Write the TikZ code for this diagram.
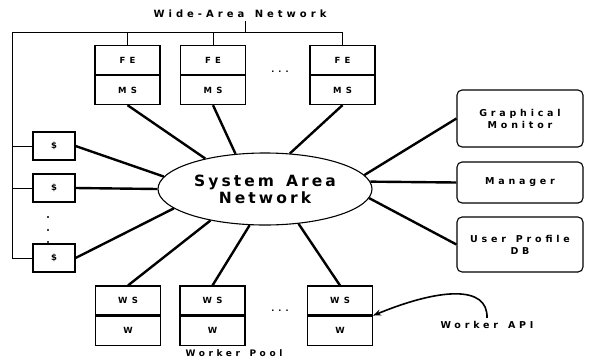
\documentclass[tikz,border=0pt]{standalone}
\usepackage{fontspec}
\newfontfamily\labelfont{DejaVu Sans}[LetterSpace=40, WordSpace=1.4]
\newfontfamily\boxfont{DejaVu Sans}[LetterSpace=50]
\newfontfamily\sanfont{DejaVu Sans}[LetterSpace=20, WordSpace=1.4]
\usetikzlibrary{shapes.geometric, arrows.meta, positioning}

\begin{document}
\begin{tikzpicture}[x=1pt, y=-1pt,
    unitbox/.style={draw, line width=1.1pt, minimum width=65pt, minimum height=29pt, inner sep=0pt,
        font={\fontsize{8.5}{9}\boxfont\bfseries}},
    cachebox/.style={unitbox, minimum width=42pt, minimum height=28pt},
    svcbox/.style={draw, line width=1.1pt, rounded corners=5pt, minimum width=126pt, align=center,
        font={\fontsize{9.5}{12}\labelfont\bfseries}},
    tag/.style={font={\fontsize{9.5}{12}\labelfont\bfseries}},
    bus/.style={line width=1pt},
    link/.style={line width=2.4pt}]
    \useasboundingbox (0,0) rectangle (595,360);

    % Wide-area network label and bus
    \node[tag, font={\fontsize{10}{12}\labelfont\bfseries}] (wan) at (240,14) {Wide-Area Network};
    \coordinate (wanbus) at (245,32);
    \coordinate (busL) at (12,32);

    % Front ends with their manager stubs
    \node[unitbox] (fe1) at (127.5,60) {FE};
    \node[unitbox, below=0pt of fe1] (ms1) {MS};
    \node[unitbox] (fe2) at (213,60) {FE};
    \node[unitbox, below=0pt of fe2] (ms2) {MS};
    \node[unitbox] (fe3) at (342.5,60) {FE};
    \node[unitbox, below=0pt of fe3] (ms3) {MS};
    \node[font={\fontsize{8}{9}\boxfont\bfseries}] (fedots) at (280,72) {...};

    % Caches on the left
    \node[cachebox] (ss1) at (54,146) {\$};
    \node[cachebox] (ss2) at (54,188) {\$};
    \node[cachebox] (ss3) at (54,258) {\$};
    \foreach \y in {217,230,242}
        \fill (48,\y) circle (1.2pt);

    % The system area network
    \node[ellipse, draw, line width=1.1pt, minimum width=214pt, minimum height=72pt, inner sep=0pt,
        align=center, font={\fontsize{15.5}{17}\sanfont\bfseries}] (san) at (265,189) {System Area\\Network};

    % Services on the right
    \node[svcbox, minimum height=57pt] (gm) at (520,118.5) {Graphical\\Monitor};
    \node[svcbox, minimum height=41pt] (mgr) at (520,182.5) {Manager};
    \node[svcbox, minimum height=55pt] (updb) at (520,244.5) {User Profile\\DB};

    % Worker pool
    \node[unitbox] (ws1) at (128,300.5) {WS};
    \node[unitbox, below=0pt of ws1] (w1) {W};
    \node[unitbox] (ws2) at (212.5,300.5) {WS};
    \node[unitbox, below=0pt of ws2] (w2) {W};
    \node[unitbox] (ws3) at (340,300.5) {WS};
    \node[unitbox, below=0pt of ws3] (w3) {W};
    \node[font={\fontsize{8}{9}\boxfont\bfseries}] (wsdots) at (280,311) {...};
    \node[tag, font={\fontsize{9}{11}\labelfont\bfseries}] (pool) at (234,353) {Worker Pool};
    \node[tag] (api) at (487,325) {Worker API};

    % WAN wiring
    \draw[bus] (wan.south -| wanbus) -- (wanbus);
    \draw[bus] (ss3.west) -| (busL) -| (fe3.north);
    \draw[bus] (fe1.north) -- (fe1.north |- busL);
    \draw[bus] (fe2.north) -- (fe2.north |- busL);
    \draw[bus] (ss1.west) -- (ss1.west -| busL);
    \draw[bus] (ss2.west) -- (ss2.west -| busL);

    % Links into the system area network
    \draw[link] (ms1.south) -- (san.153);
    \draw[link] (ms2.south) -- (san.130);
    \draw[link] (ms3.south) -- (san.55);
    \draw[link] (gm.west) -- (san.8);
    \draw[link] (mgr.west) -- (san.4);
    \draw[link] (updb.west) -- (san.-5);
    \draw[link] (ss1.east) -- (san.173);
    \draw[link] (ss2.east) -- (san.180);
    \draw[link] (ss3.east) -- (san.192);
    \draw[link] (ws1.north) -- (san.210);
    \draw[link] (ws2.north) -- (san.247);
    \draw[link] (ws3.north) -- (san.314);

    % Worker API pointer
    \draw[line width=1.6pt, -{Stealth[length=8pt, width=6pt]}] (api.north) .. controls (488,285) and (440,288) .. (ws3.south east);
\end{tikzpicture}
\end{document}
